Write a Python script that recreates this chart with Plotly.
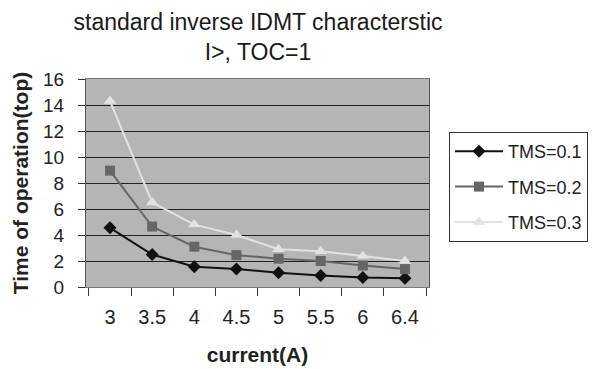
import plotly.graph_objects as go

categories = ["3", "3.5", "4", "4.5", "5", "5.5", "6", "6.4"]
tms_01 = [4.55, 2.5, 1.56, 1.38, 1.1, 0.88, 0.73, 0.67]
tms_02 = [8.95, 4.65, 3.1, 2.45, 2.18, 2.0, 1.65, 1.38]
tms_03 = [14.3, 6.5, 4.8, 4.0, 2.9, 2.75, 2.38, 2.0]
y_ticks = [0, 2, 4, 6, 8, 10, 12, 14, 16]

FONT = "Liberation Sans, Arial, sans-serif"

fig = go.Figure()
series = [
    ("TMS=0.1", tms_01, "#111111", "diamond", 10),
    ("TMS=0.2", tms_02, "#666666", "square", 10),
    ("TMS=0.3", tms_03, "#e2e2e2", "triangle-up", 11),
]
for name, vals, col, sym, sz in series:
    fig.add_trace(go.Scatter(
        x=categories, y=vals, name=name, mode="lines+markers",
        legendgroup=name,
        line=dict(color=col, width=2),
        marker=dict(symbol=sym, size=sz, color=col),
    ))

fig.update_layout(
    width=603, height=369,
    margin=dict(l=86, r=174, t=79, b=82),
    paper_bgcolor="white",
    plot_bgcolor="#b5b5b7",
    font=dict(family=FONT, color="#222222", size=18),
    title=dict(
        text="standard inverse IDMT characterstic<br>I>, TOC=1",
        x=258 / 603, xanchor="center", y=1 - 30 / 369, yanchor="middle",
        font=dict(size=23, color="#1a1a1a"),
    ),
    showlegend=True,
    legend=dict(
        x=(449 - 86) / 343, xanchor="left",
        y=(287 - 132) / 208, yanchor="top",
        bordercolor="#333333", borderwidth=1, bgcolor="white",
        font=dict(size=18), tracegroupgap=9, itemwidth=48,
    ),
)
fig.update_xaxes(
    type="category", tickson="boundaries", ticks="outside", ticklen=8,
    tickcolor="#333333", showgrid=False, showline=True, linecolor="#777777",
    linewidth=1, mirror=True, tickfont=dict(size=20), ticklabelstandoff=12,
    automargin=False,
    title=dict(text="<b>current(A)</b>", font=dict(size=21), standoff=20),
)
fig.update_yaxes(
    range=[0, 16], tickvals=y_ticks, ticks="outside", ticklen=7,
    tickcolor="#333333", showgrid=True, gridcolor="#222222", gridwidth=1,
    showline=True, linecolor="#555555", linewidth=1, mirror=True,
    zeroline=False, tickfont=dict(size=19), ticklabelstandoff=10,
    automargin=False,
    title=dict(text="<b>Time of operation(top)</b>", font=dict(size=21), standoff=8),
)

fig.write_html("out.html")
